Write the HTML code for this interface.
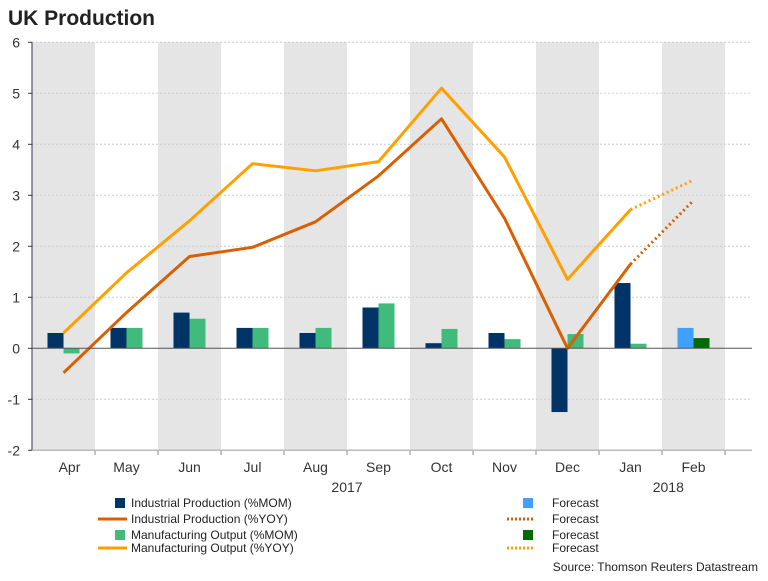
<!DOCTYPE html>
<html><head><meta charset="utf-8"><style>
body{margin:0;background:#fff;width:768px;height:576px;overflow:hidden;font-family:"Liberation Sans",Arial,sans-serif}
svg text{font-family:"Liberation Sans",Arial,sans-serif}
</style></head><body>
<svg id="c" width="768" height="576">
<text x="8" y="25" font-size="21" font-weight="bold" fill="#222">UK Production</text>
<g id="bands"></g><g id="grid"></g><g id="bars"></g><g id="lines"></g><g id="axes"></g>
<g id="legend" font-size="12" fill="#222">
<rect x="115" y="498" width="10" height="10" fill="#003366"/>
<text x="131" y="507">Industrial Production (%MOM)</text>
<line x1="98" y1="519" x2="127" y2="519" stroke="#d95f02" stroke-width="3"/>
<text x="131" y="523">Industrial Production (%YOY)</text>
<rect x="115" y="530" width="10" height="10" fill="#41bb7b"/>
<text x="131" y="539">Manufacturing Output (%MOM)</text>
<line x1="98" y1="548" x2="127" y2="548" stroke="#ff9f00" stroke-width="3"/>
<text x="131" y="552">Manufacturing Output (%YOY)</text>
<rect x="523" y="498" width="10" height="10" fill="#3fa0ff"/>
<text x="552" y="507">Forecast</text>
<line x1="507" y1="519" x2="535" y2="519" stroke="#d95f02" stroke-width="3" stroke-dasharray="2,2"/>
<text x="552" y="523">Forecast</text>
<rect x="523" y="530" width="10" height="10" fill="#006b00"/>
<text x="552" y="539">Forecast</text>
<line x1="507" y1="548" x2="535" y2="548" stroke="#ff9f00" stroke-width="3" stroke-dasharray="2,2"/>
<text x="552" y="552">Forecast</text>
</g>
<text x="758" y="571" font-size="12" fill="#222" text-anchor="end">Source: Thomson Reuters Datastream</text>
</svg>
<script>
const categories=["Apr","May","Jun","Jul","Aug","Sep","Oct","Nov","Dec","Jan","Feb"];
const ipMom=[0.3,0.4,0.7,0.4,0.3,0.8,0.1,0.3,-1.25,1.28,0.4];
const moMom=[-0.1,0.4,0.58,0.4,0.4,0.88,0.38,0.18,0.28,0.09,0.2];
const ipYoy=[-0.48,0.7,1.8,1.98,2.48,3.38,4.5,2.55,0.0,1.65,2.9];
const moYoy=[0.3,1.48,2.5,3.62,3.48,3.66,5.1,3.75,1.35,2.72,3.3];
const yTicks=[-2,-1,0,1,2,3,4,5,6];
const years=[{label:"2017",idx:4.5},{label:"2018",idx:9.6}];
const NS="http://www.w3.org/2000/svg";
const X0=32,BW=63,XEND=752;
const y=v=>348.3-v*51;
const xc=i=>X0+BW*(i+0.5);
function mk(p,t,a){const e=document.createElementNS(NS,t);for(const k in a)e.setAttribute(k,a[k]);document.getElementById(p).appendChild(e);return e;}
categories.forEach((c,i)=>{
 if(i%2===0){const r=mk('bands','rect',{x:X0+BW*i,y:y(6),width:BW,height:y(-2)-y(6),fill:'#e5e5e5'});
 
 }
 const t=mk('axes','text',{x:xc(i)+(i===0?6:0),y:472,'font-size':14,fill:'#333','text-anchor':'middle'});t.textContent=c;
 
 
 const tk=mk('axes','line',{x1:X0+BW*(i+1),x2:X0+BW*(i+1),y1:450,y2:455,stroke:'#888'});
 
 
});
years.forEach(yy=>{const t=mk('axes','text',{x:xc(yy.idx),y:492,'font-size':14,fill:'#333','text-anchor':'middle'});t.textContent=yy.label;
 
 });
yTicks.forEach(v=>{
 if(v!==0&&v!==-2){const g=mk('grid','line',{x1:X0,x2:XEND,y1:y(v),y2:y(v),stroke:'#ccc','stroke-dasharray':'2,2'});
 
 }
 const t=mk('axes','text',{x:20,y:y(v)+5,'font-size':14,fill:'#333','text-anchor':'end'});t.textContent=v;
 
 
 const tk=mk('axes','line',{x1:X0-4,x2:X0,y1:y(v),y2:y(v),stroke:'#335'});
 
 
});
let a=mk('axes','line',{x1:X0,x2:X0,y1:y(6),y2:y(-2),stroke:'#335'});


a=mk('axes','line',{x1:X0,x2:XEND,y1:y(-2),y2:y(-2),stroke:'#bbb','stroke-width':1.5});


a=mk('axes','line',{x1:X0,x2:XEND,y1:y(0),y2:y(0),stroke:'#555'});


const last=categories.length-1;
categories.forEach((c,i)=>{
 const f=i===last;
 [[ipMom[i],f?'#3fa0ff':'#003366',-16,'ip-mom'],[moMom[i],f?'#006b00':'#41bb7b',0,'mo-mom']].forEach(([v,col,off,n])=>{
  const r=mk('bars','rect',{x:xc(i)+off,y:Math.min(y(v),y(0)),width:16,height:Math.abs(y(v)-y(0)),fill:col});
  
  
 });
});
[[ipYoy,'#d95f02','ip-yoy'],[moYoy,'#ff9f00','mo-yoy']].forEach(([d,col,n])=>{
 const pts=d.slice(0,last).map((v,i)=>xc(i)+','+y(v)).join(' ');
 const l=mk('lines','polyline',{points:pts,fill:'none',stroke:col,'stroke-width':3,'stroke-linejoin':'round'});
 
 
 const f=mk('lines','line',{x1:xc(last-1),y1:y(d[last-1]),x2:xc(last),y2:y(d[last]),stroke:col,'stroke-width':3,'stroke-dasharray':'2,3'});
 
 
});
</script>
</body></html>
